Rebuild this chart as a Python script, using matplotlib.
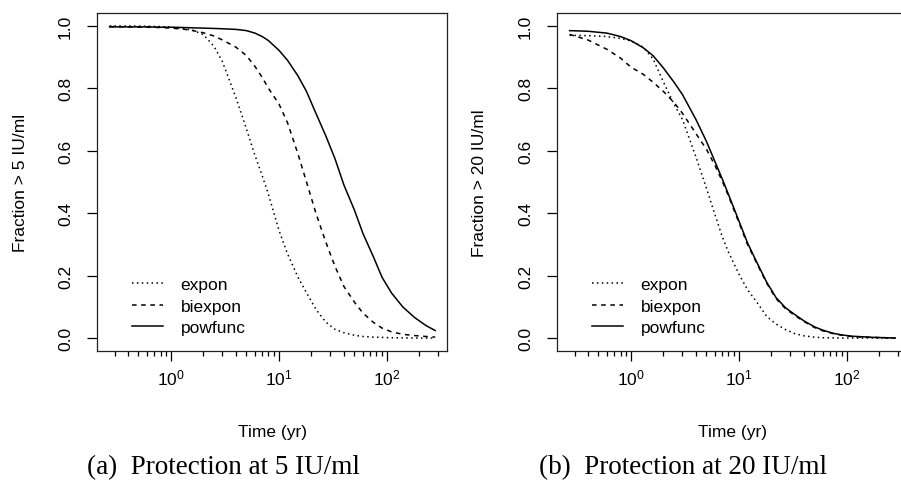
import matplotlib
matplotlib.use("Agg")
import matplotlib.pyplot as plt
from matplotlib.ticker import LogLocator, LogFormatterMathtext, FixedLocator, NullFormatter

plt.rcParams['font.family'] = ['Liberation Sans', 'DejaVu Sans']
plt.rcParams['mathtext.fontset'] = 'custom'
plt.rcParams['mathtext.rm'] = 'Liberation Sans'
plt.rcParams['mathtext.it'] = 'Liberation Sans:italic'
plt.rcParams['mathtext.bf'] = 'Liberation Sans:bold'

# ---- data ----
time_yr = [0.27, 0.4, 0.6, 0.8, 1, 1.3, 1.6, 2, 2.5, 3, 4, 5, 6, 7, 8, 10, 12, 15,
           18, 22, 27, 33, 40, 50, 60, 75, 90, 110, 140, 180, 230, 280]

a_expon = [1.0, 1.0, 0.999, 0.998, 0.996, 0.992, 0.986, 0.972, 0.935, 0.885, 0.77, 0.67,
           0.585, 0.52, 0.46, 0.345, 0.27, 0.195, 0.145, 0.092, 0.052, 0.028, 0.017, 0.009,
           0.005, 0.003, 0.002, 0.001, 0.0005, 0.0, 0.0, 0.0]
a_biexpon = [0.998, 0.997, 0.996, 0.995, 0.993, 0.99, 0.985, 0.978, 0.968, 0.955, 0.932, 0.905,
             0.87, 0.835, 0.80, 0.75, 0.69, 0.59, 0.50, 0.40, 0.31, 0.23, 0.165, 0.115,
             0.08, 0.05, 0.032, 0.02, 0.012, 0.008, 0.005, 0.003]
a_powfunc = [0.997, 0.997, 0.997, 0.996, 0.996, 0.995, 0.994, 0.993, 0.992, 0.991, 0.989, 0.985,
             0.977, 0.966, 0.953, 0.922, 0.89, 0.84, 0.79, 0.72, 0.65, 0.575, 0.49, 0.41,
             0.335, 0.26, 0.195, 0.145, 0.10, 0.066, 0.04, 0.024]

b_expon = [0.97, 0.969, 0.966, 0.96, 0.952, 0.932, 0.895, 0.82, 0.75, 0.70, 0.58, 0.48,
           0.395, 0.325, 0.275, 0.205, 0.155, 0.11, 0.07, 0.045, 0.027, 0.014, 0.007, 0.003,
           0.001, 0.0005, 0.0, 0.0, 0.0, 0.0, 0.0, 0.0]
b_biexpon = [0.973, 0.955, 0.925, 0.897, 0.868, 0.845, 0.82, 0.79, 0.755, 0.72, 0.655, 0.605,
             0.553, 0.503, 0.455, 0.37, 0.30, 0.232, 0.177, 0.127, 0.094, 0.072, 0.053, 0.034,
             0.023, 0.014, 0.009, 0.005, 0.003, 0.002, 0.001, 0.0]
b_powfunc = [0.985, 0.983, 0.977, 0.966, 0.953, 0.93, 0.905, 0.865, 0.82, 0.78, 0.70, 0.63,
             0.565, 0.51, 0.46, 0.375, 0.305, 0.235, 0.18, 0.13, 0.097, 0.075, 0.055, 0.036,
             0.025, 0.015, 0.01, 0.006, 0.004, 0.002, 0.001, 0.0]

series_names = ["expon", "biexpon", "powfunc"]
y_ticks = [0.0, 0.2, 0.4, 0.6, 0.8, 1.0]
y_ticklabels = ["0.0", "0.2", "0.4", "0.6", "0.8", "1.0"]
ylabels = ["Fraction > 5 IU/ml", "Fraction > 20 IU/ml"]
xlabel = "Time (yr)"
captions = ["(a)  Protection at 5 IU/ml", "(b)  Protection at 20 IU/ml"]

styles = [(0, (1, 2.2)), (0, (3, 3)), "-"]

W, H = 901, 489
fig = plt.figure(figsize=(W / 100, H / 100), dpi=100)

panels = [
    (97, [a_expon, a_biexpon, a_powfunc]),
    (557, [b_expon, b_biexpon, b_powfunc]),
]
cap_x = [223, 683]

for i, (left_px, ys) in enumerate(panels):
    ax = fig.add_axes([left_px / W, 1 - 352 / H, 350 / W, 338 / H])
    for y, ls, name in zip(ys, styles, series_names):
        ax.plot(time_yr, y, color="black", lw=1.1, linestyle=ls, label=name)
    ax.set_xscale("log")
    ax.set_xlim(0.2065, 360)
    ax.set_ylim(-0.0415, 1.0415)
    ax.xaxis.set_major_locator(LogLocator(base=10, numticks=10))
    ax.xaxis.set_major_formatter(LogFormatterMathtext())
    ax.xaxis.set_minor_locator(LogLocator(base=10, subs=[2, 3, 4, 5, 6, 7, 8, 9], numticks=20))
    ax.xaxis.set_minor_formatter(NullFormatter())
    ax.yaxis.set_major_locator(FixedLocator(y_ticks))
    ax.set_yticklabels(y_ticklabels, rotation=90, va="center")
    ax.tick_params(axis="both", which="major", direction="out", length=7.2, width=0.9,
                   labelsize=12.5, color="black")
    ax.tick_params(axis="x", which="major", pad=5)
    ax.tick_params(axis="y", which="major", pad=10)
    ax.tick_params(axis="x", which="minor", direction="out", length=3.6, width=0.9)
    for sp in ax.spines.values():
        sp.set_linewidth(0.9)
        sp.set_color("#222222")
    ax.text(-0.22, 0.5, ylabels[i], transform=ax.transAxes, rotation=90,
            ha="center", va="center", fontsize=12.5)
    ax.text(0.5, -0.237, xlabel, transform=ax.transAxes, ha="center", va="center",
            fontsize=12.5)
    ax.legend(loc="center left", bbox_to_anchor=(0.08, 0.133), frameon=False,
              fontsize=12.5, handlelength=1.8, handletextpad=1.0, labelspacing=0.38,
              borderaxespad=0.0)
    fig.text(cap_x[i] / W, 1 - 468 / H, captions[i], ha="center", va="center",
             fontsize=19.5, family=["Liberation Serif", "DejaVu Serif"])

fig.savefig("out.png", dpi=100)
